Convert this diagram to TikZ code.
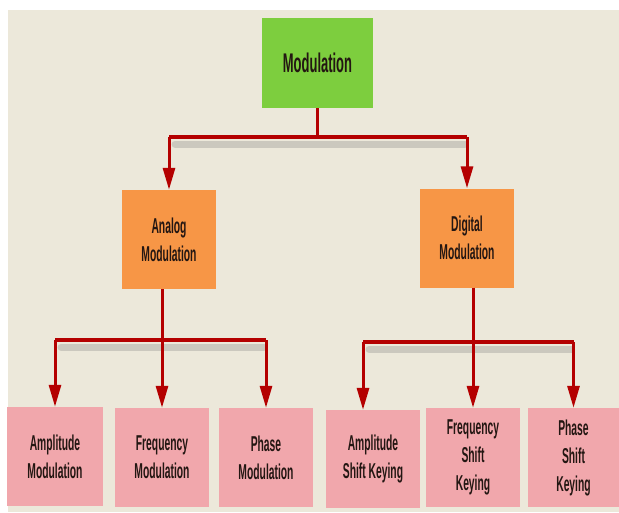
\documentclass[tikz,border=0pt]{standalone}
\usepackage{fontspec}
\newfontfamily\boxfont[FakeStretch=0.48]{Liberation Sans}
\usetikzlibrary{arrows.meta}
\definecolor{bgc}{RGB}{236,232,218}
\definecolor{topc}{RGB}{125,206,62}
\definecolor{midc}{RGB}{247,150,70}
\definecolor{lowc}{RGB}{241,167,172}
\definecolor{redc}{RGB}{180,0,0}
\definecolor{txtc}{RGB}{35,22,18}
\tikzset{
  box/.style={draw=none, inner sep=0pt, align=center, text=txtc,
    font=\boxfont\bfseries\fontsize{21.5}{28}\selectfont},
  topbox/.style={box, fill=topc, minimum width=111pt, minimum height=90pt,
    font=\boxfont\bfseries\fontsize{27}{30}\selectfont},
  midbox/.style={box, fill=midc, minimum width=94pt, minimum height=99pt},
  lowbox/.style={box, fill=lowc, minimum width=94pt, minimum height=99pt},
  bar/.style={draw=redc, line width=3.5pt},
  arr/.style={draw=redc, line width=3pt, -{Triangle[length=22pt,width=12pt]}},
  shade/.style={draw=black!50, line width=7pt, opacity=0.3, line cap=round}
}
\begin{document}
\begin{tikzpicture}[x=1pt,y=-1pt]
\useasboundingbox (0,0) rectangle (619,512);
\fill[bgc] (8,10) rectangle (619,512);
% nodes
\node[topbox] (mod) at (317.5,63) {Modulation};
\node[midbox] (ana) at (169,239.5) {Analog\\Modulation};
\node[midbox] (dig) at (467,238) {Digital\\Modulation};
\node[lowbox, minimum width=96pt] (am) at (55,456.5) {Amplitude\\Modulation};
\node[lowbox] (fm) at (162,457.5) {Frequency\\Modulation};
\node[lowbox] (pm) at (266,457.5) {Phase\\Modulation};
\node[lowbox, minimum height=98pt] (ask) at (373,459) {Amplitude\\Shift Keying};
\node[lowbox] (fsk) at (473,457.5) {Frequency\\Shift\\Keying};
\node[lowbox, minimum width=91pt] (psk) at (573.5,457.5) {Phase\\Shift\\Keying};
% junction points
\coordinate (j0) at (mod.south |- 0,137);
\coordinate (jl) at (ana.north |- 0,137);
\coordinate (jr) at (dig.north |- 0,137);
\coordinate (askin) at ([xshift=-10pt]ask.north);
\coordinate (l1) at (am.north |- 0,340);
\coordinate (l3) at (pm.north |- 0,340);
\coordinate (r1) at (askin |- 0,342);
\coordinate (r3) at (psk.north |- 0,342);
% shadows
\draw[shade] ([shift={(6,7)}]jl) -- ([shift={(-2,7)}]jr);
\draw[shade] ([shift={(6,7)}]l1) -- ([shift={(-2,7)}]l3);
\draw[shade] ([shift={(6,7)}]r1) -- ([shift={(-2,7)}]r3);
% connectors
\draw[bar] (mod.south) -- (j0);
\draw[bar] (jl) -- (jr);
\draw[arr] (jl) -- (ana.north);
\draw[arr] (jr) -- (dig.north);
\draw[bar] (l1) -- (l3);
\draw[arr] (fm.north |- ana.south) -- (fm.north);
\draw[arr] (l1) -- (am.north);
\draw[arr] (l3) -- (pm.north);
\draw[bar] (r1) -- (r3);
\draw[arr] (fsk.north |- dig.south) -- (fsk.north);
\draw[arr] (r1) -- (askin);
\draw[arr] (r3) -- (psk.north);
\end{tikzpicture}
\end{document}
